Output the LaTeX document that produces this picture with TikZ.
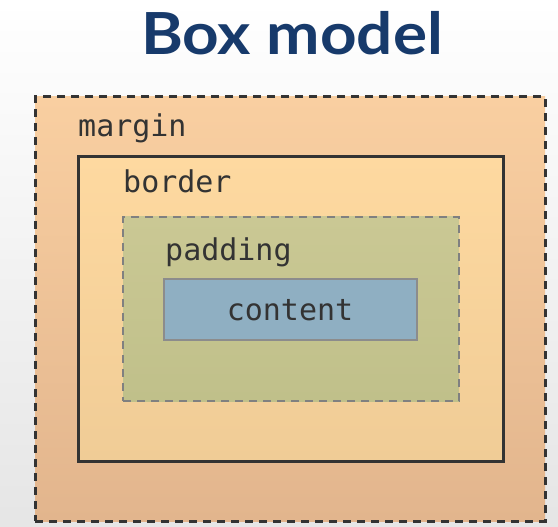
\documentclass[tikz,border=0pt]{standalone}
\usepackage{fontspec}
\setmainfont{Lato}
\setmonofont{DejaVu Sans Mono}
\definecolor{titleblue}{HTML}{173A6B}
\definecolor{inkgray}{HTML}{333333}
\tikzset{
  layer/.style={draw, inner sep=0pt, minimum width=#1},
  lbl/.style={font=\ttfamily\fontsize{30}{30}\selectfont, text=inkgray, anchor=base west, inner sep=0pt}
}
\begin{document}
\begin{tikzpicture}[x=1pt,y=-1pt]

            % background
            \useasboundingbox (0,0) rectangle (558,527);
            \shade[top color=white, bottom color=black!10] (0,0) rectangle (558,527);

            % title
            \node[font=\fontsize{58}{58}\selectfont\bfseries, text=titleblue, anchor=base, inner sep=0pt] (title) at (292,55) {\scalebox{1.1}[1]{Box model}};

            % boxes
            \node[layer=510pt, minimum height=424pt, draw=inkgray, line width=3pt, dash pattern=on 8pt off 6pt,
                  top color={rgb,255:red,249;green,207;blue,161}, bottom color={rgb,255:red,226;green,181;blue,141}] (margin) at (290,309) {};
            \node[layer=425pt, minimum height=304pt, draw=inkgray, line width=3pt,
                  top color={rgb,255:red,254;green,217;blue,160}, bottom color={rgb,255:red,240;green,204;blue,150}] (border) at (290.5,309) {};
            \node[layer=336pt, minimum height=184pt, draw=black!50, line width=2.5pt, dash pattern=on 8pt off 6pt,
                  top color={rgb,255:red,202;green,200;blue,148}, bottom color={rgb,255:red,192;green,192;blue,138}] (padding) at (291,309) {};
            \node[layer=253pt, minimum height=61pt, draw=black!45, line width=2.5pt,
                  fill={rgb,255:red,143;green,175;blue,194}] (content) at (290.5,309.5) {};

            % labels
            \node[lbl] (marginlbl) at (78,137) {margin};
            \node[lbl] (borderlbl) at (123,193) {border};
            \node[lbl] (paddinglbl) at (165,260) {padding};
            \node[lbl, anchor=base] (contentlbl) at (290,320) {content};

        \end{tikzpicture}
\end{document}
